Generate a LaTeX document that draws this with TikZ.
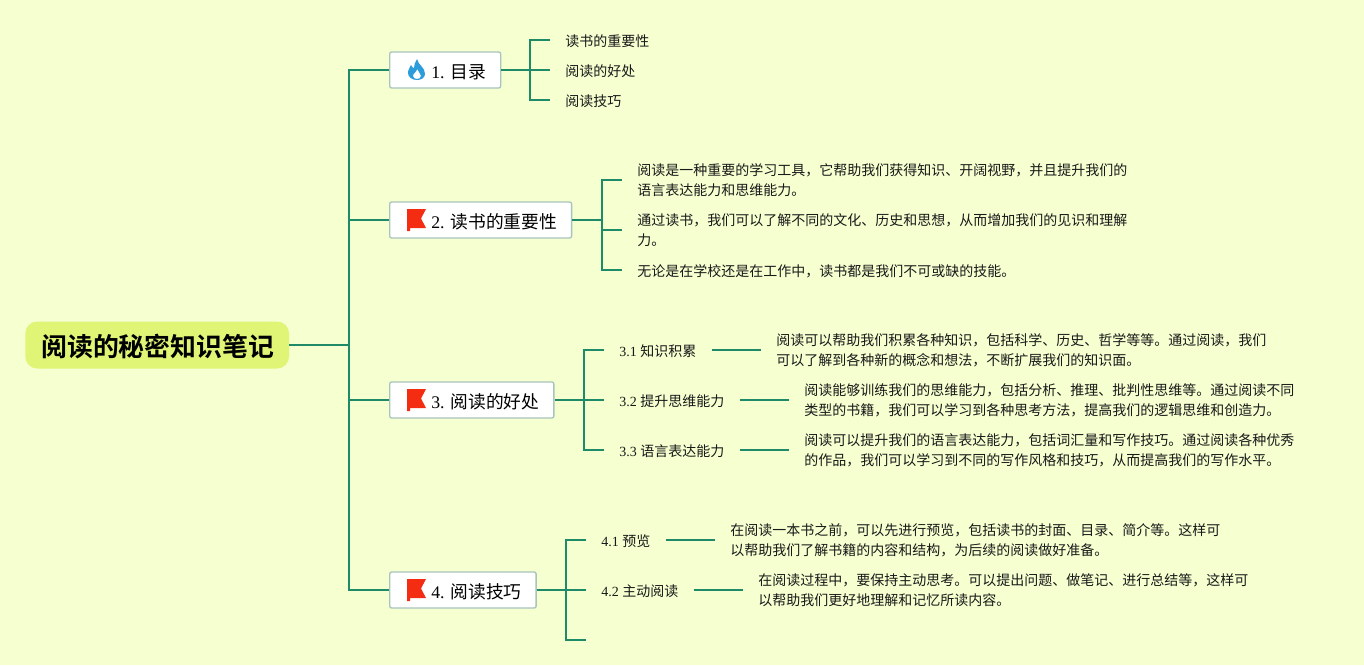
\documentclass[tikz,border=0pt]{standalone}
\usepackage{fontspec}
\setmainfont{Noto Sans CJK SC}[BoldFont={Noto Sans CJK SC Bold}]
\newfontfamily\latinfont{Liberation Serif}
\newcommand{\numtag}[1]{{\latinfont #1 }}
\definecolor{bgcol}{HTML}{F5FFD0}
\definecolor{rootcol}{HTML}{E0F576}
\definecolor{linecol}{HTML}{1F8A68}
\definecolor{boxcol}{HTML}{A9C4BC}
\definecolor{flagcol}{HTML}{F42C12}
\definecolor{flamecol}{HTML}{2C9CDB}

\begin{document}
\begin{tikzpicture}[
  x=0.75pt, y=-0.75pt,
  root/.style={anchor=west, fill=rootcol, rounded corners=9pt, minimum height=35.25pt,
    inner xsep=11.25pt, font=\fontsize{19.4}{24}\selectfont\bfseries,
    execute at begin node=\rule{0pt}{18.6pt}\hspace*{0.75pt}},
  topic/.style={anchor=west, draw=boxcol, line width=1pt, fill=white, rounded corners=1.5pt,
    minimum height=27pt, inner xsep=11pt, inner ysep=0pt, font=\fontsize{13.3}{16}\selectfont,
    execute at begin node=\rule{0pt}{13.2pt}\hspace*{20.25pt}},
  leaf/.style={anchor=west, inner xsep=11.25pt, inner ysep=0pt, align=left, text=black!90,
    font=\fontsize{10.5}{15}\selectfont, execute at begin node=\rule{0pt}{10.7pt}},
  para/.style={leaf, execute at begin node=\rule{0pt}{14pt}},
  link/.style={draw=linecol, line width=1.5pt},
  flagicon/.pic={
    \fill[flagcol] (0,0) -- (19,0) -- (14,9.5) -- (19,19) -- (3,19) -- (3,22) -- (0,22) -- cycle;
  },
  flameicon/.pic={
    \fill[flamecol, even odd rule] (9,0) .. controls (10,6) and (17,8) .. (17,15)
      .. controls (17,19) and (13,21) .. (9,21) .. controls (4,21) and (0,18) .. (0,14)
      .. controls (0,10) and (2,9) .. (3,6) .. controls (4,8) and (5,9) .. (6,9)
      .. controls (6,6) and (7,3) .. (9,0) -- cycle
      (9,10) .. controls (9,13) and (5,14) .. (5,17) .. controls (5,19) and (7,20) .. (9,20)
      .. controls (11,20) and (13,19) .. (13,17) .. controls (13,14) and (10,13) .. (9,10) -- cycle;
  }]

  \useasboundingbox (0,0) rectangle (1364,665);
  \fill[bgcol] (0,0) rectangle (1364,665);

  % vertices
  \node[root] (root) at (25,345) {阅读的秘密知识笔记};
  \node[topic] (t1) at (389,70)  {\numtag{1.}目录};
  \node[topic] (t2) at (389,220) {\numtag{2.}读书的重要性};
  \node[topic] (t3) at (389,400) {\numtag{3.}阅读的好处};
  \node[topic] (t4) at (389,590) {\numtag{4.}阅读技巧};

  % icons
  \pic at (408,59)  {flameicon};
  \pic at (407,209) {flagicon};
  \pic at (407,389) {flagicon};
  \pic at (407,579) {flagicon};

  % leaves of 1
  \node[leaf] (a1) at (550,40)  {读书的重要性};
  \node[leaf] (a2) at (550,70)  {阅读的好处};
  \node[leaf] (a3) at (550,100) {阅读技巧};

  % leaves of 2
  \node[para] (b1) at (622,180) {阅读是一种重要的学习工具，它帮助我们获得知识、开阔视野，并且提升我们的\\语言表达能力和思维能力。};
  \node[para] (b2) at (622,230) {通过读书，我们可以了解不同的文化、历史和思想，从而增加我们的见识和理解\\力。};
  \node[leaf] (b3) at (622,270) {无论是在学校还是在工作中，读书都是我们不可或缺的技能。};

  % leaves of 3
  \node[leaf] (c1) at (604,350) {\numtag{3.1}知识积累};
  \node[leaf] (c2) at (604,400) {\numtag{3.2}提升思维能力};
  \node[leaf] (c3) at (604,450) {\numtag{3.3}语言表达能力};
  \node[para] (c1t) at (761,350) {阅读可以帮助我们积累各种知识，包括科学、历史、哲学等等。通过阅读，我们\\可以了解到各种新的概念和想法，不断扩展我们的知识面。};
  \node[para] (c2t) at (789,400) {阅读能够训练我们的思维能力，包括分析、推理、批判性思维等。通过阅读不同\\类型的书籍，我们可以学习到各种思考方法，提高我们的逻辑思维和创造力。};
  \node[para] (c3t) at (789,450) {阅读可以提升我们的语言表达能力，包括词汇量和写作技巧。通过阅读各种优秀\\的作品，我们可以学习到不同的写作风格和技巧，从而提高我们的写作水平。};

  % leaves of 4
  \node[leaf] (d1) at (586,540) {\numtag{4.1}预览};
  \node[leaf] (d2) at (586,590) {\numtag{4.2}主动阅读};
  \node[para] (d1t) at (715,540) {在阅读一本书之前，可以先进行预览，包括读书的封面、目录、简介等。这样可\\以帮助我们了解书籍的内容和结构，为后续的阅读做好准备。};
  \node[para] (d2t) at (743,590) {在阅读过程中，要保持主动思考。可以提出问题、做笔记、进行总结等，这样可\\以帮助我们更好地理解和记忆所读内容。};

  % junctions
  \coordinate (j0) at (349,345);
  \coordinate (j1) at (530,70);
  \coordinate (j2) at (602,220);
  \coordinate (j3) at (584,400);
  \coordinate (j4) at (566,590);
  \coordinate (d3) at (586,640);

  % arrows
  \draw[link] (root.east) -- (j0);
  \foreach \t in {t1,t2,t3,t4} \draw[link] (j0) |- (\t.west);
  \draw[link] (t1.east) -- (j1);
  \foreach \t in {a1,a2,a3} \draw[link] (j1) |- (\t.west);
  \draw[link] (t2.east) -- (j2);
  \foreach \t in {b1,b2,b3} \draw[link] (j2) |- (\t.west);
  \draw[link] (t3.east) -- (j3);
  \foreach \t in {c1,c2,c3} \draw[link] (j3) |- (\t.west);
  \draw[link] (t4.east) -- (j4);
  \foreach \t in {d1.west,d2.west,d3} \draw[link] (j4) |- (\t);
  \draw[link] (c1) -- (c1t);
  \draw[link] (c2) -- (c2t);
  \draw[link] (c3) -- (c3t);
  \draw[link] (d1) -- (d1t);
  \draw[link] (d2) -- (d2t);
\end{tikzpicture}
\end{document}
